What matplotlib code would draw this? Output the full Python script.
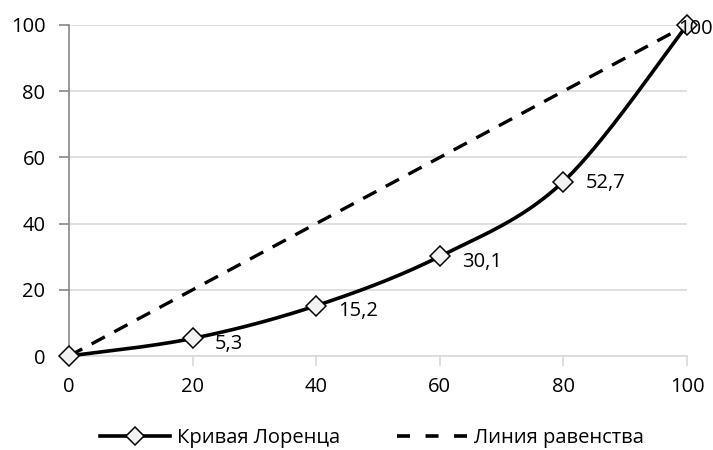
import numpy as np
import matplotlib
matplotlib.use("Agg")
import matplotlib.pyplot as plt
from matplotlib.lines import Line2D

plt.rcParams['font.family'] = ['Open Sans', 'DejaVu Sans']

x_vals = [0, 20, 40, 60, 80, 100]
lorenz = [0, 5.3, 15.2, 30.1, 52.7, 100]
equality = [0, 100]
equality_x = [0, 100]
label_texts = ["", "5,3", "15,2", "30,1", "52,7", "100"]
series_names = ["Кривая Лоренца", "Линия равенства"]


def smooth(xs, ys, n=40):
    xs = np.asarray(xs, float); ys = np.asarray(ys, float)
    P = np.column_stack([xs, ys])
    out = []
    for i in range(len(P) - 1):
        p0 = P[i - 1] if i > 0 else P[i]
        p1 = P[i]
        p2 = P[i + 1]
        p3 = P[i + 2] if i + 2 < len(P) else P[i + 1]
        c1 = p1 + (p2 - p0) / 6
        c2 = p2 - (p3 - p1) / 6
        t = np.linspace(0, 1, n)[:, None]
        seg = (1 - t) ** 3 * p1 + 3 * (1 - t) ** 2 * t * c1 + 3 * (1 - t) * t ** 2 * c2 + t ** 3 * p2
        out.append(seg if i == 0 else seg[1:])
    s = np.vstack(out)
    return s[:, 0], s[:, 1]


FS = 14.5

fig = plt.figure(figsize=(7.13, 4.5), dpi=100)
ax = fig.add_axes([69 / 713, 1 - 356 / 450, (687 - 69) / 713, (356 - 25) / 450])

ax.set_xlim(0, 100)
ax.set_ylim(0, 100)
ax.set_xticks(x_vals)
ax.set_yticks([0, 20, 40, 60, 80, 100])
ax.yaxis.grid(True, color='#d9d9d9', linewidth=1.2)
ax.set_axisbelow(True)
for s in ['top', 'right']:
    ax.spines[s].set_visible(False)
ax.spines['left'].set_color('#868686')
ax.spines['bottom'].set_color('#d9d9d9')
ax.spines['left'].set_linewidth(1.2)
ax.spines['bottom'].set_linewidth(1.2)
ax.tick_params(axis='y', length=7, color='#868686', width=1.2, labelsize=FS, pad=10)
ax.tick_params(axis='x', length=7, color='#d9d9d9', width=1.2, labelsize=FS, pad=8)

dash = (0, (4.5, 3.2))
ax.plot(equality_x, equality, color='black', linewidth=2.4, linestyle=dash, clip_on=False, zorder=3)

sx, sy = smooth(x_vals, lorenz)
ax.plot(sx, sy, color='black', linewidth=2.6, clip_on=False, zorder=4)
ax.plot(x_vals, lorenz, linestyle='none', marker='D', markersize=10.5,
        markerfacecolor='#f2f2f2', markeredgecolor='black', markeredgewidth=1.1,
        clip_on=False, zorder=5)

offsets = [(0, 0), (16, -4), (16, -4), (16, -4), (16, -1), (-6, -3)]
for xv, yv, t, off in zip(x_vals, lorenz, label_texts, offsets):
    if t:
        ax.annotate(t, (xv, yv), xytext=off, textcoords='offset points',
                    ha='left', va='center', fontsize=FS, zorder=6)

handles = [
    Line2D([0], [0], color='black', linewidth=2.6, marker='D', markersize=9.5,
           markerfacecolor='#f2f2f2', markeredgecolor='black', markeredgewidth=1.1),
    Line2D([0], [0], color='black', linewidth=2.6, linestyle=(0, (3.6, 4.3))),
]
fig.legend(handles, series_names, loc='center', bbox_to_anchor=(372 / 713, 1 - 438 / 450),
           ncol=2, frameon=False, fontsize=FS, handlelength=3.5, columnspacing=2.8,
           handletextpad=0.35)

fig.savefig('out.png', dpi=100)
